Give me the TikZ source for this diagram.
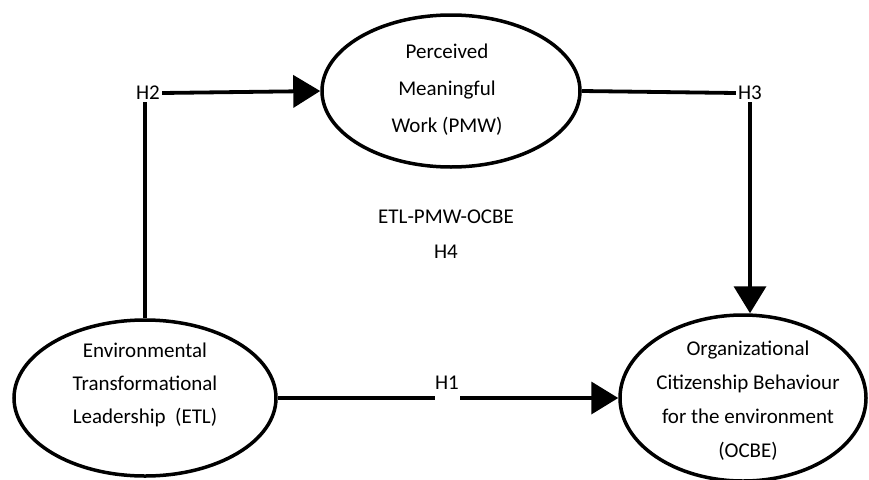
\documentclass[tikz,border=0pt]{standalone}
\usepackage{fontspec}
\setmainfont{Carlito}
\usetikzlibrary{shapes.geometric,arrows.meta}
\begin{document}
\begin{tikzpicture}[x=1pt,y=-1pt,
  every node/.style={font=\fontsize{21}{33}\selectfont},
  construct/.style={draw, ellipse, line width=3.5pt, inner sep=0pt},
  txt/.style={align=center, inner sep=1pt},
  hlab/.style={inner sep=2pt},
  link/.style={line width=3.8pt},
  arrowlink/.style={line width=3.8pt, -{Triangle[length=27pt,width=32pt]}}
]
\useasboundingbox (0,0) rectangle (869,479);
% constructs
\node[construct, minimum width=262pt, minimum height=156pt] (etl) at (145,398) {};
\node[construct, minimum width=258pt, minimum height=152pt] (pmw) at (451,91) {};
\node[construct, minimum width=246pt, minimum height=166pt] (ocbe) at (743,398) {};
% texts
\node[txt] (etltext) at (145,385) {Environmental\\Transformational\\Leadership~ (ETL)};
\node[txt, font=\fontsize{21}{37}\selectfont] (pmwtext) at (447,90) {Perceived\\Meaningful\\Work (PMW)};
\node[txt, font=\fontsize{21}{34}\selectfont] (ocbetext) at (748,401) {Organizational\\Citizenship Behaviour\\for the environment\\(OCBE)};
\node[txt, font=\fontsize{21}{35}\selectfont] (h4) at (446,234) {ETL-PMW-OCBE\\H4};
% hypothesis labels
\node[hlab] (h2) at (148,93) {H2};
\node[hlab] (h3) at (750,93) {H3};
\node[hlab] (h1) at (447,383) {H1};
\coordinate (g1) at (435,398);
\coordinate (g2) at (460,398);
% connectors
\draw[link] (etl.north) -- (etl.north |- h2.south);
\draw[arrowlink] (h2.east) -- (pmw.west);
\draw[link] (pmw.east) -- (h3.west);
\draw[arrowlink] (h3.south) -- (h3.south |- ocbe.north);
\draw[link] (etl.east) -- (g1);
\draw[arrowlink] (g2) -- (ocbe.west);
\end{tikzpicture}
\end{document}
